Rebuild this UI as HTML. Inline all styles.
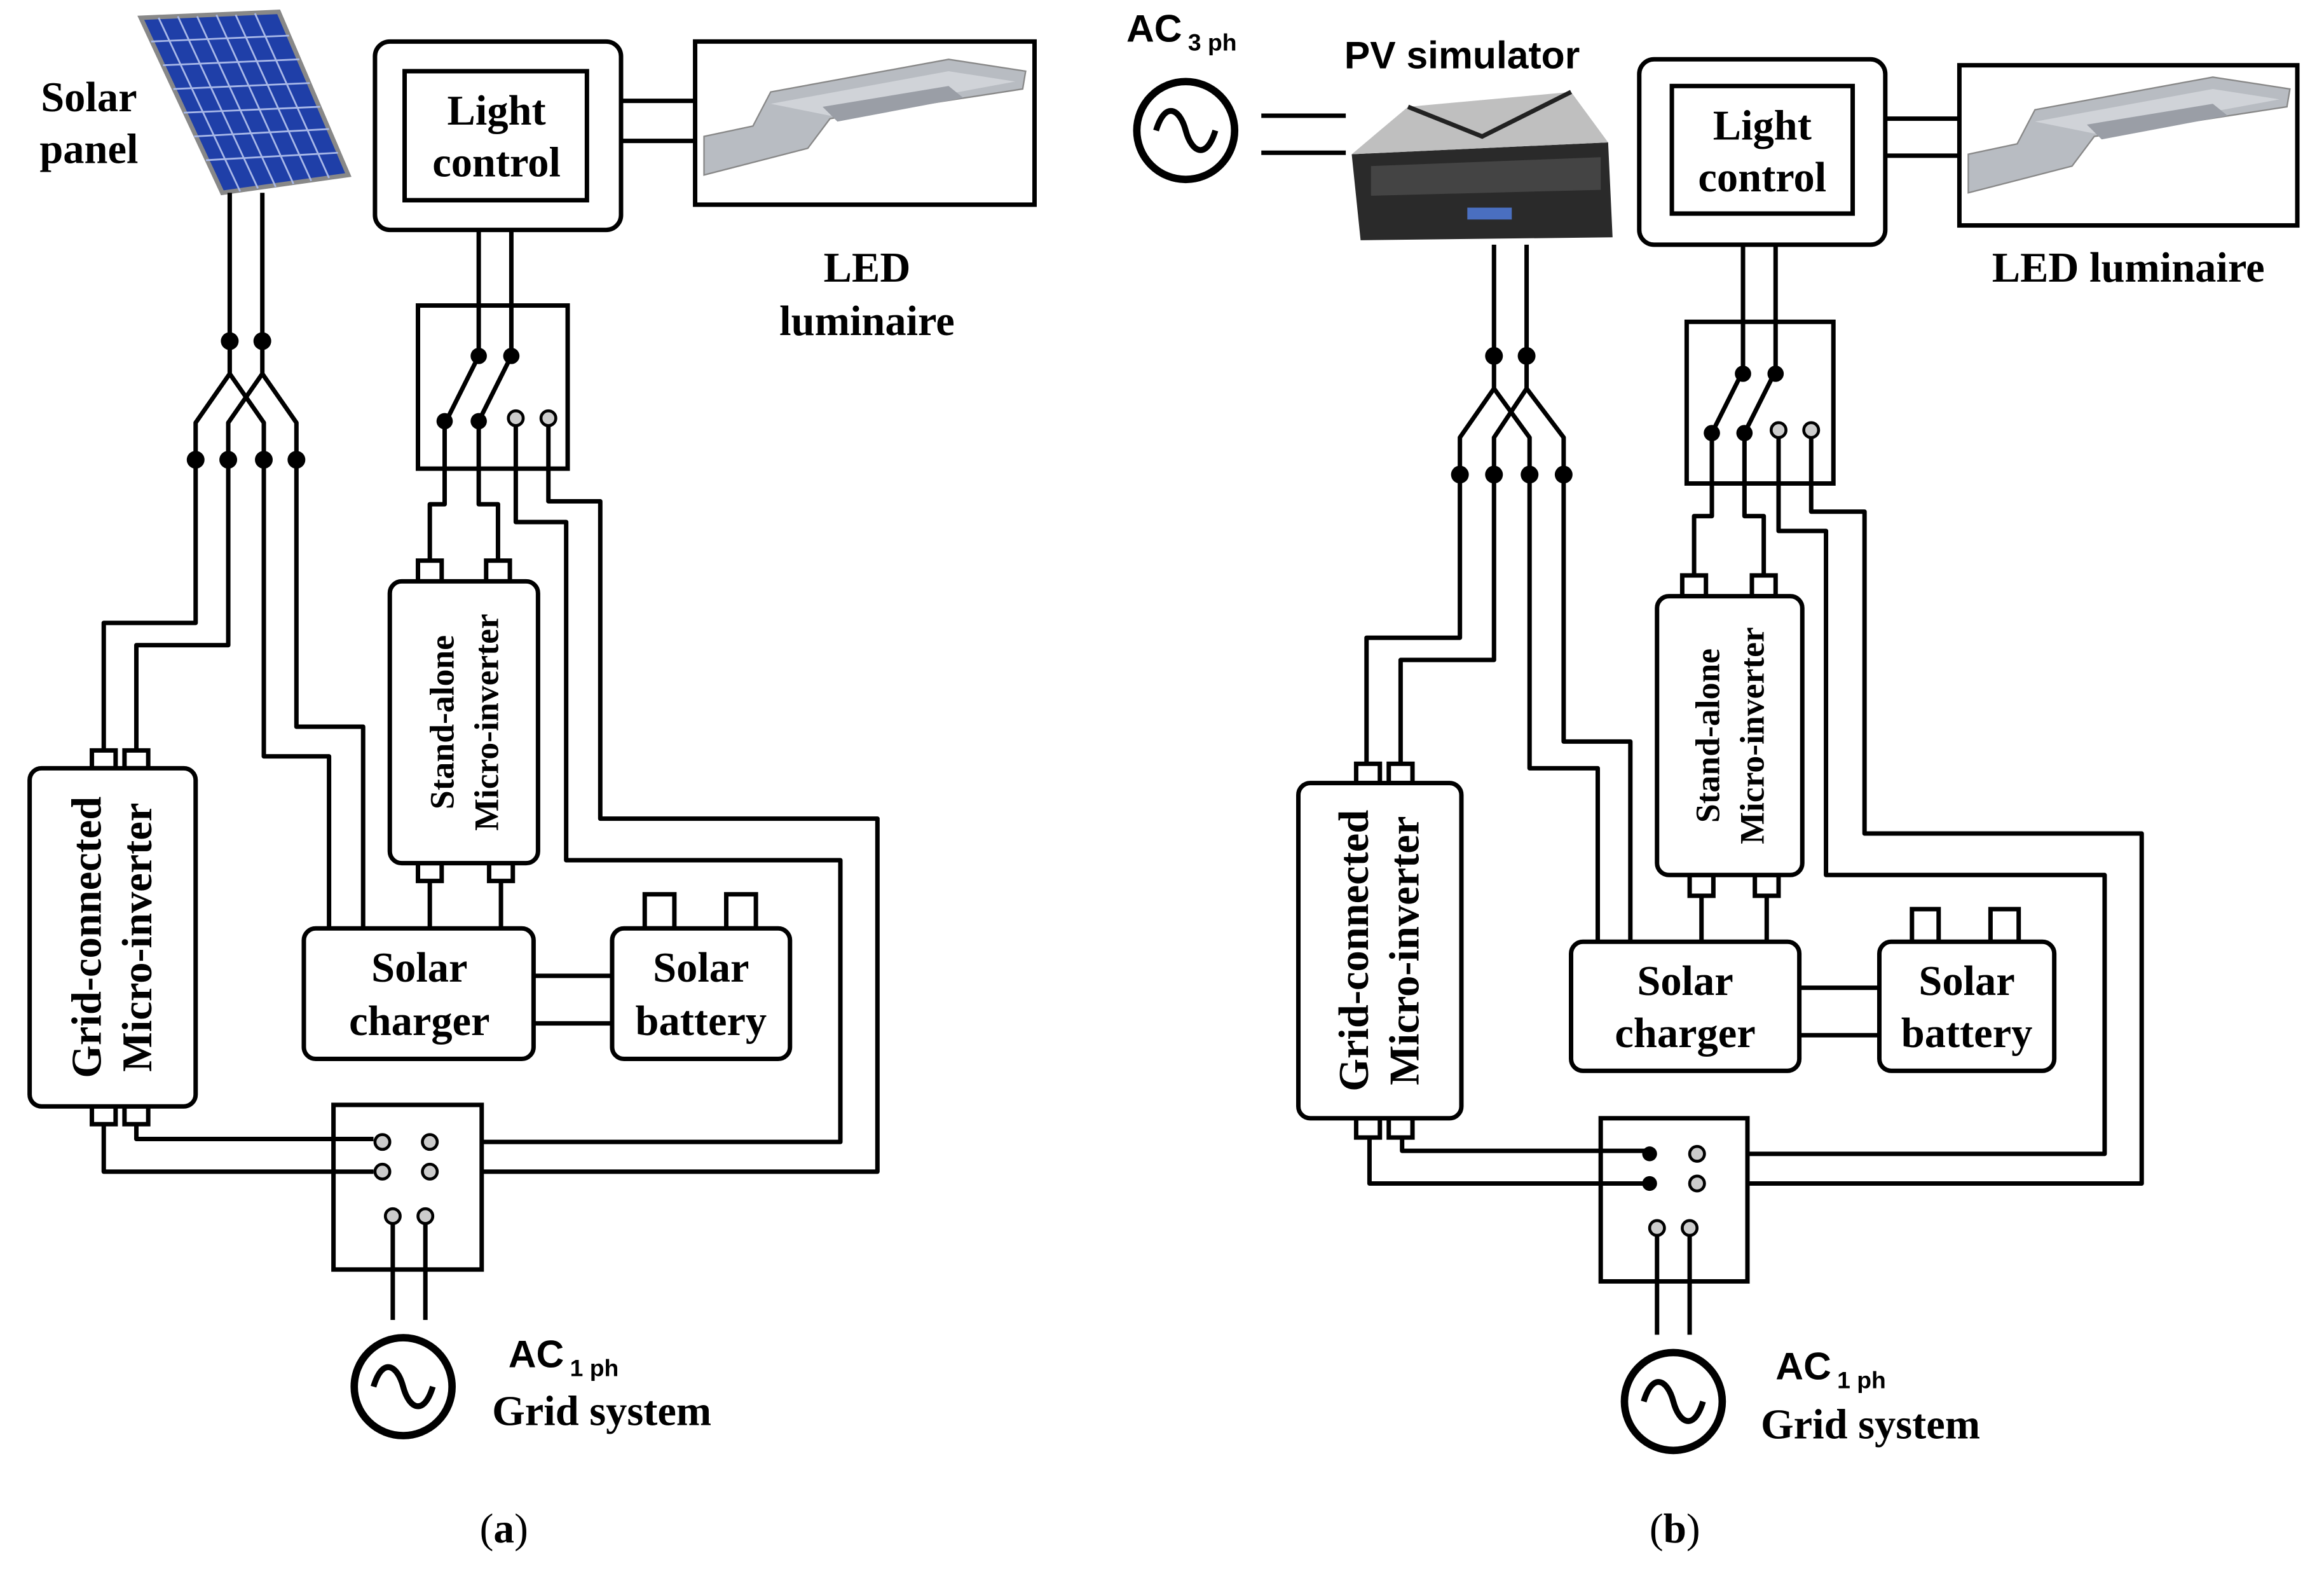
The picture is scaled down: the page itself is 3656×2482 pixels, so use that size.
<!DOCTYPE html>
<html><head><meta charset="utf-8"><style>
html,body{margin:0;padding:0;background:#fff;}
svg{display:block;}
.w{fill:none;stroke:#000;stroke-width:3;stroke-linejoin:round;}
.b{fill:#fff;stroke:#000;stroke-width:3;}
.t{font-family:"Liberation Serif",serif;font-weight:bold;font-size:28.5px;fill:#000;}
.s{font-family:"Liberation Sans",sans-serif;font-weight:bold;font-size:26px;fill:#000;}
</style></head><body>
<svg width="3656" height="2482" viewBox="0 0 1568 1064" preserveAspectRatio="none" xmlns="http://www.w3.org/2000/svg">
<rect width="1568" height="1064" fill="#fff"/>

<!-- ============ (a) ============ -->
<polygon points="95,12 188,8 235,118 150,130" fill="#1f3fa8" stroke="#888" stroke-width="3"/>
<g stroke="#a8b8e8" stroke-width="1.2">
<line x1="107" y1="12" x2="162" y2="129"/><line x1="120" y1="11" x2="174" y2="127"/><line x1="133" y1="11" x2="186" y2="126"/>
<line x1="146" y1="10" x2="198" y2="124"/><line x1="159" y1="10" x2="210" y2="122"/><line x1="172" y1="9" x2="222" y2="120"/>
<line x1="102" y1="28" x2="195" y2="24"/><line x1="110" y1="44" x2="202" y2="40"/><line x1="117" y1="60" x2="209" y2="56"/>
<line x1="124" y1="76" x2="216" y2="72"/><line x1="131" y1="92" x2="222" y2="87"/><line x1="139" y1="108" x2="228" y2="103"/>
</g>
<text class="t" x="60" y="75" text-anchor="middle">Solar</text>
<text class="t" x="60" y="110" text-anchor="middle">panel</text>

<path class="w" d="M155,130 V252 L132,285 V420 H70 V506"/>
<path class="w" d="M155,252 L178,285 V510 H222 V626"/>
<path class="w" d="M177,130 V252 L154,285 V435 H92 V506"/>
<path class="w" d="M177,252 L200,285 V490 H245 V626"/>
<g fill="#000"><circle cx="155" cy="230" r="6"/><circle cx="177" cy="230" r="6"/>
<circle cx="132" cy="310" r="6"/><circle cx="154" cy="310" r="6"/><circle cx="178" cy="310" r="6"/><circle cx="200" cy="310" r="6"/></g>

<rect class="b" x="62" y="506" width="16" height="12"/><rect class="b" x="84" y="506" width="16" height="12"/>
<rect class="b" x="62" y="746" width="16" height="12"/><rect class="b" x="84" y="746" width="16" height="12"/>
<rect class="b" x="20" y="518" width="112" height="228" rx="8"/>
<text class="t" transform="translate(68,632) rotate(-90)" text-anchor="middle">Grid-connected</text>
<text class="t" transform="translate(102,632) rotate(-90)" text-anchor="middle">Micro-inverter</text>

<rect class="b" x="253" y="28" width="166" height="127" rx="10"/>
<rect class="b" x="273" y="48" width="123" height="87"/>
<text class="t" x="335" y="84" text-anchor="middle">Light</text>
<text class="t" x="335" y="119" text-anchor="middle">control</text>
<line class="w" x1="419" y1="68" x2="469" y2="68"/><line class="w" x1="419" y1="95" x2="469" y2="95"/>
<rect class="b" x="469" y="28" width="229" height="110"/>
<path d="M475,118 L545,100 L560,80 L690,60 L692,48 L640,40 L520,62 L508,85 L475,92 Z" fill="#b8bcc2" stroke="#888" stroke-width="1"/>
<path d="M520,70 L640,48 L685,55 L560,78 Z" fill="#d0d3d8"/>
<path d="M555,72 L640,58 L650,66 L565,82 Z" fill="#9a9ea6"/>
<text class="t" x="585" y="190" text-anchor="middle">LED</text>
<text class="t" x="585" y="226" text-anchor="middle">luminaire</text>

<rect class="b" x="282" y="206" width="101" height="110"/>
<path class="w" d="M323,155 V240 L302,282"/>
<path class="w" d="M345,155 V240 L324,282"/>
<g fill="#000"><circle cx="323" cy="240" r="5.5"/><circle cx="345" cy="240" r="5.5"/><circle cx="300" cy="284" r="5.5"/><circle cx="323" cy="284" r="5.5"/></g>
<path class="w" d="M300,284 V340 H290 V378"/>
<path class="w" d="M323,284 V340 H336 V378"/>
<path class="w" d="M348,284 V352 H382 V580 H567 V770 H298"/>
<path class="w" d="M370,284 V338 H405 V552 H592 V790 H298"/>
<g fill="#ccc" stroke="#000" stroke-width="2"><circle cx="348" cy="282" r="5"/><circle cx="370" cy="282" r="5"/></g>

<rect class="b" x="282" y="378" width="16" height="14"/><rect class="b" x="328" y="378" width="16" height="14"/>
<rect class="b" x="282" y="582" width="16" height="12"/><rect class="b" x="330" y="582" width="16" height="12"/>
<rect class="b" x="263" y="392" width="100" height="190" rx="8"/>
<text class="t" style="font-size:23px" transform="translate(306,487) rotate(-90)" text-anchor="middle">Stand-alone</text>
<text class="t" style="font-size:23px" transform="translate(336,487) rotate(-90)" text-anchor="middle">Micro-inverter</text>
<line class="w" x1="290" y1="594" x2="290" y2="626"/><line class="w" x1="338" y1="594" x2="338" y2="626"/>

<rect class="b" x="205" y="626" width="155" height="88" rx="8"/>
<text class="t" x="283" y="662" text-anchor="middle">Solar</text>
<text class="t" x="283" y="698" text-anchor="middle">charger</text>
<line class="w" x1="360" y1="658" x2="413" y2="658"/><line class="w" x1="360" y1="690" x2="413" y2="690"/>
<rect class="b" x="435" y="603" width="20" height="23"/><rect class="b" x="490" y="603" width="20" height="23"/>
<rect class="b" x="413" y="626" width="120" height="88" rx="8"/>
<text class="t" x="473" y="662" text-anchor="middle">Solar</text>
<text class="t" x="473" y="698" text-anchor="middle">battery</text>

<rect class="b" x="225" y="745" width="100" height="111"/>
<path class="w" d="M92,758 V768 H252"/>
<path class="w" d="M70,758 V790 H252"/>
<path class="w" d="M265,820 V890"/><path class="w" d="M287,820 V890"/>
<g fill="#ccc" stroke="#000" stroke-width="2"><circle cx="258" cy="770" r="5"/><circle cx="290" cy="770" r="5"/><circle cx="258" cy="790" r="5"/><circle cx="290" cy="790" r="5"/><circle cx="265" cy="820" r="5"/><circle cx="287" cy="820" r="5"/></g>
<circle cx="272" cy="935" r="33" fill="#fff" stroke="#000" stroke-width="5"/>
<path d="M252,935 C258,915 268,920 272,935 C276,950 286,955 292,935" fill="none" stroke="#000" stroke-width="4"/>
<text class="s" x="343" y="922">AC<tspan font-size="16" dx="4" dy="6">1 ph</tspan></text>
<text class="t" x="332" y="961">Grid system</text>
<text x="340" y="1040" text-anchor="middle" font-family="Liberation Serif,serif" font-size="28">(<tspan font-weight="bold">a</tspan>)</text>

<!-- ============ (b) ============ -->
<text class="s" x="760" y="28">AC<tspan font-size="16" dx="4" dy="6">3 ph</tspan></text>
<circle cx="800" cy="88" r="33" fill="#fff" stroke="#000" stroke-width="5"/>
<path d="M780,88 C786,68 796,73 800,88 C804,103 814,108 820,88" fill="none" stroke="#000" stroke-width="4"/>
<line class="w" x1="851" y1="78" x2="908" y2="78"/><line class="w" x1="851" y1="103" x2="908" y2="103"/>
<text class="s" x="907" y="46">PV simulator</text>
<path d="M912,104 L1085,96 L1088,160 L918,162 Z" fill="#2a2a2a"/>
<path d="M912,104 L950,72 L1060,62 L1085,96 Z" fill="#bfbfbf"/>
<path d="M925,112 L1080,106 L1080,128 L925,132 Z" fill="#444"/>
<rect x="990" y="140" width="30" height="8" fill="#4a6fc0"/>
<path d="M950,72 L1000,92 L1060,62" fill="none" stroke="#222" stroke-width="3"/>

<path class="w" d="M1008,165 V262 L985,295 V430 H922 V515"/>
<path class="w" d="M1008,262 L1032,295 V518 H1078 V635"/>
<path class="w" d="M1030,165 V262 L1008,295 V445 H945 V515"/>
<path class="w" d="M1030,262 L1055,295 V500 H1100 V635"/>
<g fill="#000"><circle cx="1008" cy="240" r="6"/><circle cx="1030" cy="240" r="6"/>
<circle cx="985" cy="320" r="6"/><circle cx="1008" cy="320" r="6"/><circle cx="1032" cy="320" r="6"/><circle cx="1055" cy="320" r="6"/></g>

<rect class="b" x="915" y="515" width="16" height="13"/><rect class="b" x="937" y="515" width="16" height="13"/>
<rect class="b" x="915" y="754" width="16" height="13"/><rect class="b" x="937" y="754" width="16" height="13"/>
<rect class="b" x="876" y="528" width="110" height="226" rx="8"/>
<text class="t" transform="translate(923,641) rotate(-90)" text-anchor="middle">Grid-connected</text>
<text class="t" transform="translate(957,641) rotate(-90)" text-anchor="middle">Micro-inverter</text>

<rect class="b" x="1106" y="40" width="166" height="125" rx="10"/>
<rect class="b" x="1128" y="58" width="122" height="86"/>
<text class="t" x="1189" y="94" text-anchor="middle">Light</text>
<text class="t" x="1189" y="129" text-anchor="middle">control</text>
<line class="w" x1="1272" y1="80" x2="1322" y2="80"/><line class="w" x1="1272" y1="105" x2="1322" y2="105"/>
<rect class="b" x="1322" y="44" width="228" height="108"/>
<path d="M1328,130 L1398,112 L1413,92 L1543,72 L1545,60 L1493,52 L1373,74 L1361,97 L1328,104 Z" fill="#b8bcc2" stroke="#888" stroke-width="1"/>
<path d="M1373,82 L1493,60 L1538,67 L1413,90 Z" fill="#d0d3d8"/>
<path d="M1408,84 L1493,70 L1503,78 L1418,94 Z" fill="#9a9ea6"/>
<text class="t" x="1436" y="190" text-anchor="middle">LED luminaire</text>

<rect class="b" x="1138" y="217" width="99" height="109"/>
<path class="w" d="M1176,165 V250 L1156,290"/>
<path class="w" d="M1198,165 V250 L1178,290"/>
<g fill="#000"><circle cx="1176" cy="252" r="5.5"/><circle cx="1198" cy="252" r="5.5"/><circle cx="1155" cy="292" r="5.5"/><circle cx="1177" cy="292" r="5.5"/></g>
<path class="w" d="M1155,292 V348 H1143 V388"/>
<path class="w" d="M1177,292 V348 H1190 V388"/>
<path class="w" d="M1200,292 V358 H1232 V590 H1420 V778 H1150"/>
<path class="w" d="M1222,292 V345 H1258 V562 H1445 V798 H1150"/>
<g fill="#ccc" stroke="#000" stroke-width="2"><circle cx="1200" cy="290" r="5"/><circle cx="1222" cy="290" r="5"/></g>

<rect class="b" x="1135" y="388" width="16" height="14"/><rect class="b" x="1182" y="388" width="16" height="14"/>
<rect class="b" x="1140" y="590" width="16" height="14"/><rect class="b" x="1184" y="590" width="16" height="14"/>
<rect class="b" x="1118" y="402" width="98" height="188" rx="8"/>
<text class="t" style="font-size:23px" transform="translate(1160,496) rotate(-90)" text-anchor="middle">Stand-alone</text>
<text class="t" style="font-size:23px" transform="translate(1190,496) rotate(-90)" text-anchor="middle">Micro-inverter</text>
<line class="w" x1="1148" y1="604" x2="1148" y2="635"/><line class="w" x1="1192" y1="604" x2="1192" y2="635"/>

<rect class="b" x="1060" y="635" width="154" height="87" rx="8"/>
<text class="t" x="1137" y="671" text-anchor="middle">Solar</text>
<text class="t" x="1137" y="706" text-anchor="middle">charger</text>
<line class="w" x1="1214" y1="666" x2="1268" y2="666"/><line class="w" x1="1214" y1="698" x2="1268" y2="698"/>
<rect class="b" x="1290" y="613" width="18" height="22"/><rect class="b" x="1343" y="613" width="19" height="22"/>
<rect class="b" x="1268" y="635" width="118" height="87" rx="8"/>
<text class="t" x="1327" y="671" text-anchor="middle">Solar</text>
<text class="t" x="1327" y="706" text-anchor="middle">battery</text>

<rect class="b" x="1080" y="754" width="99" height="110"/>
<path class="w" d="M946,767 V776 H1110"/>
<path class="w" d="M924,767 V798 H1110"/>
<path class="w" d="M1118,828 V900"/><path class="w" d="M1140,828 V900"/>
<g fill="#000"><circle cx="1113" cy="778" r="5"/><circle cx="1113" cy="798" r="5"/></g>
<g fill="#ccc" stroke="#000" stroke-width="2"><circle cx="1145" cy="778" r="5"/><circle cx="1145" cy="798" r="5"/><circle cx="1118" cy="828" r="5"/><circle cx="1140" cy="828" r="5"/></g>
<circle cx="1129" cy="945" r="33" fill="#fff" stroke="#000" stroke-width="5"/>
<path d="M1109,945 C1115,925 1125,930 1129,945 C1133,960 1143,965 1149,945" fill="none" stroke="#000" stroke-width="4"/>
<text class="s" x="1198" y="930">AC<tspan font-size="16" dx="4" dy="6">1 ph</tspan></text>
<text class="t" x="1188" y="970">Grid system</text>
<text x="1130" y="1040" text-anchor="middle" font-family="Liberation Serif,serif" font-size="28">(<tspan font-weight="bold">b</tspan>)</text>
</svg>
</body></html>
